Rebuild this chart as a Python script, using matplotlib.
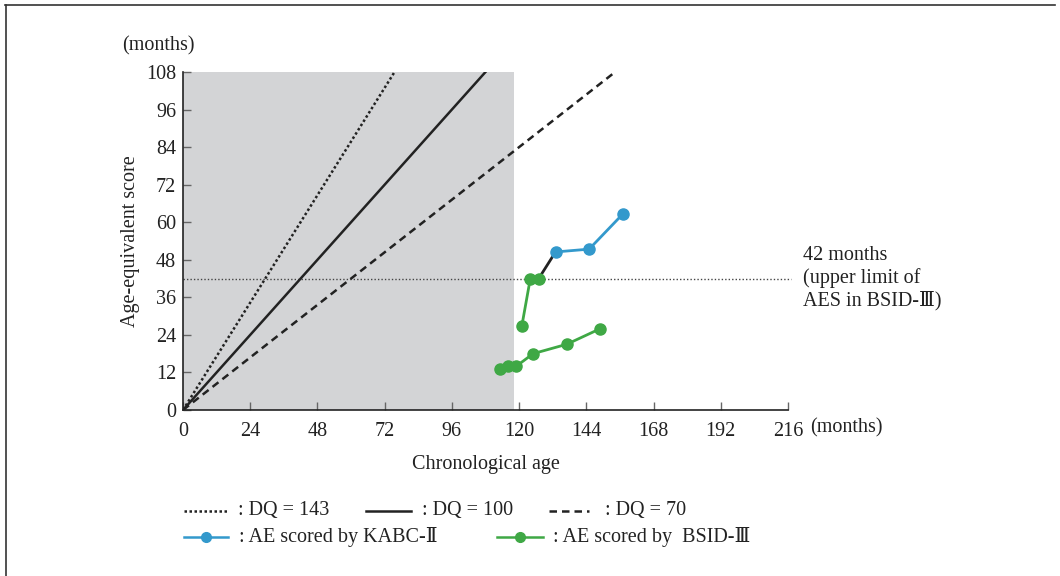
import matplotlib
matplotlib.use("Agg")
import matplotlib.pyplot as plt
from matplotlib.lines import Line2D
from matplotlib.patches import Rectangle

plt.rcParams['font.family'] = ['Liberation Serif', 'DejaVu Serif', 'DejaVu Sans']

# ---- data ----
dq_values = [143, 100, 70]
dq_styles = [(0, (1, 1)), '-', (0, (3, 2))]
dq_labels = [": DQ = 143", ": DQ = 100", ": DQ = 70"]
ymax = 108
shade_x = 118
bsid_limit = 42

kabc_x = [133, 145, 157]
kabc_y = [50.5, 51.4, 62.6]

bsid_a_x = [121, 124, 127]
bsid_a_y = [27, 42, 42]

bsid_b_x = [113, 116, 119, 125, 137, 149]
bsid_b_y = [13, 14, 14, 18, 21, 26]

link_x = [127, 133]
link_y = [42, 50.5]

x_ticks = list(range(0, 217, 24))
y_ticks = list(range(0, 109, 12))

blue = '#3399cc'
green = '#3fa845'
FS = 14.5

fig = plt.figure(figsize=(10.6, 5.76), dpi=100)
ax = fig.add_axes([183/1060, 1-410/576, 605/1060, 338/576])

ax.add_patch(Rectangle((0, 0), shade_x, ymax, facecolor='#d3d4d6', edgecolor='none', zorder=0))

for dq, ls in zip(dq_values, dq_styles):
    xend = ymax * 100 / dq
    ax.plot([0, xend], [0, ymax], color='#222222', lw=1.8, linestyle=ls, zorder=2)

ax.plot([0, 217], [bsid_limit, bsid_limit], color='#444444', lw=1.0, linestyle=(0, (1, 1.5)),
        clip_on=False, zorder=1)

ax.plot(link_x, link_y, color='#222222', lw=2, zorder=3)
ax.plot(kabc_x, kabc_y, color=blue, lw=2, marker='o', ms=8, zorder=4)
ax.plot(bsid_a_x, bsid_a_y, color=green, lw=2, marker='o', ms=8, zorder=4)
ax.plot(bsid_b_x, bsid_b_y, color=green, lw=2, marker='o', ms=8, zorder=4)

ax.set_xlim(0, 216)
ax.set_ylim(0, ymax)
ax.set_xticks(x_ticks)
ax.set_yticks(y_ticks)
ax.set_facecolor('none')
for s in ['top', 'right']:
    ax.spines[s].set_visible(False)
for s in ['left', 'bottom']:
    ax.spines[s].set_color('#222222')
    ax.spines[s].set_linewidth(1.2)
ax.tick_params(direction='in', length=6, width=1, color='#666666', labelsize=FS,
               labelcolor='#222222')
ax.tick_params(axis='x', pad=9)
ax.tick_params(axis='y', pad=5)

ax.set_xlabel("Chronological age", fontsize=FS, labelpad=10, color='#222222')
ax.set_ylabel("Age-equivalent score", fontsize=FS, labelpad=4, color='#222222')

fig.text(810/1060, 1-428/576, "(months)", fontsize=FS, color='#222222', ha='left', va='center')
fig.text(122/1060, 1-46/576, "(months)", fontsize=FS, color='#222222', ha='left', va='center')

fig.text(803/1060, 1-278/576, "42 months\n(upper limit of\nAES in BSID-Ⅲ)", fontsize=FS,
         color='#222222', ha='left', va='center', linespacing=1.2)

# ---- legend ----
def leg_item(x0, x1, y, tx, label, color, ls, marker=None):
    fig.add_artist(Line2D([x0/1060, x1/1060], [1-y/576, 1-y/576], color=color, lw=1.8,
                          linestyle=ls, transform=fig.transFigure))
    if marker:
        fig.add_artist(Line2D([(x0+x1)/2/1060], [1-y/576], color=color, marker=marker, ms=7,
                              transform=fig.transFigure))
    fig.text(tx/1060, 1-y/576, label, fontsize=FS, color='#222222', ha='left', va='center')

leg_item(184, 227, 511, 238, dq_labels[0], '#222222', dq_styles[0])
leg_item(366, 411, 511, 422, dq_labels[1], '#222222', dq_styles[1])
leg_item(549, 589, 511, 605, dq_labels[2], '#222222', dq_styles[2])
leg_item(184, 228, 537, 239, ": AE scored by KABC-Ⅱ", blue, '-', 'o')
leg_item(497, 543, 537, 553, ": AE scored by  BSID-Ⅲ", green, '-', 'o')

# figure border (top & left)
fig.add_artist(Line2D([5/1060, 1055/1060], [1-5/576, 1-5/576], color='#333333', lw=1.2,
                      transform=fig.transFigure))
fig.add_artist(Line2D([5.5/1060, 5.5/1060], [0, 1-5/576], color='#333333', lw=1.2,
                      transform=fig.transFigure))

fig.savefig("out.png", dpi=100)
